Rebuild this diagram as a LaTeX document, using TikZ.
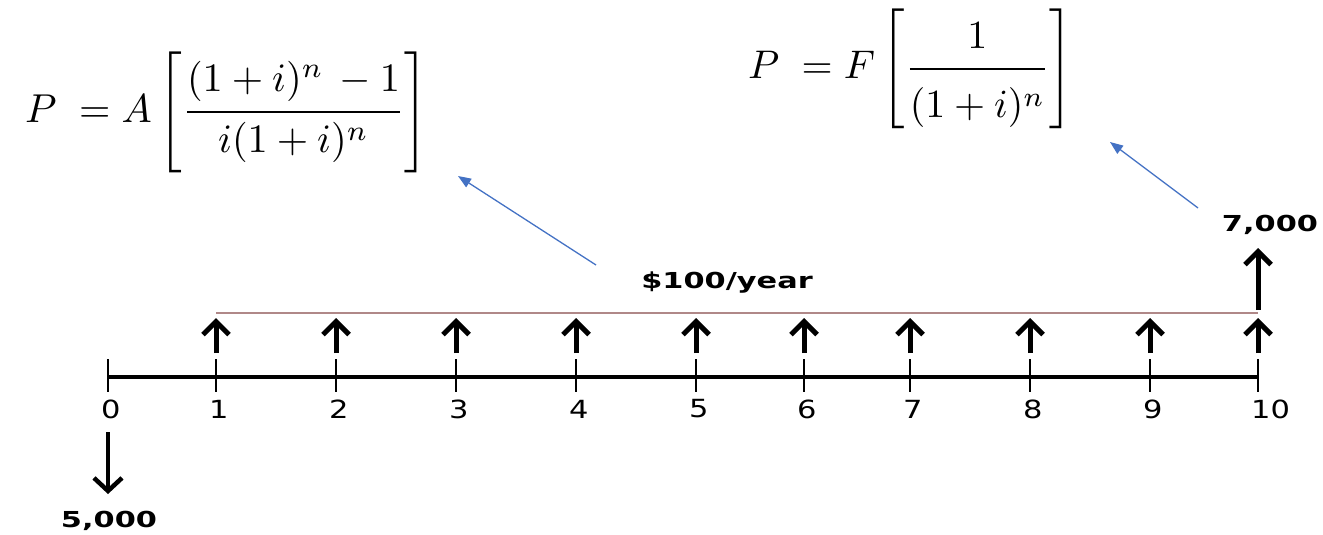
\documentclass[tikz,border=0pt]{standalone}
\usepackage{amsmath}
\usepackage{graphicx}
\usepackage{fontspec}
\newfontfamily\verd{DejaVu Sans}
\usetikzlibrary{arrows.meta}
\definecolor{linkblue}{HTML}{4472C4}
\definecolor{rosel}{HTML}{B08888}
\newcommand{\wideamt}[1]{\scalebox{1.38}[1]{#1}}
\newcommand{\widetick}[1]{\scalebox{1.22}[1]{#1}}
\newcommand{\mystrut}[2]{\rule[-#2]{0pt}{\dimexpr#1+#2\relax}}
\begin{document}
\begin{tikzpicture}[x=1pt,y=-1pt,
  axisline/.style={line width=4.5pt},
  tickline/.style={line width=1.8pt},
  upflow/.style={line width=5pt,-{Straight Barb[length=13pt,width=26pt,line width=5pt]}},
  downflow/.style={line width=4.5pt,-{Straight Barb[length=13pt,width=28pt,line width=4.5pt]}},
  ticklabel/.style={font=\verd\fontsize{25}{27}\selectfont,inner sep=0pt,anchor=west},
  amtlabel/.style={font=\verd\bfseries\fontsize{22}{24}\selectfont,inner sep=0pt},
  formula/.style={inner sep=0pt,anchor=base west},
  pointer/.style={linkblue,line width=1.3pt,-{Triangle[length=13pt,width=10pt]}},
  annuity/.style={rosel,line width=1.2pt}]
\useasboundingbox (0,0) rectangle (1323,535);

% tick coordinates
\foreach \n/\x in {0/108,1/216,2/336,3/456,4/576,5/696,6/804,7/910,8/1030,9/1150,10/1258}{
  \coordinate (t\n) at (\x,377);
  \coordinate (tt\n) at (\x,359);
  \coordinate (tb\n) at (\x,392);
  \draw[tickline] (tt\n) -- (tb\n);
  \node[ticklabel] (l\n) at (\x-7,409) {\widetick{\n}};
}
\draw[axisline] (t0) -- (t10);

% annual arrows
\foreach \n/\x in {1/216,2/336,3/456,4/576,5/696,6/804,7/910,8/1030,9/1150,10/1258}{
  \coordinate (ab\n) at (\x,353);
  \coordinate (at\n) at (\x,318);
  \draw[upflow] (ab\n) -- (at\n);
}
% annuity line
\coordinate (ann1) at (216,313);
\coordinate (ann10) at (1258,313);
\draw[annuity] (ann1) -- (ann10);
\node[amtlabel] (ann) at (727,283) {\wideamt{\$100/year}};

% future value
\coordinate (fb) at (1258,310);
\coordinate (ft) at (1258,248);
\draw[upflow] (fb) -- (ft);
\node[amtlabel] (fv) at (1270,225) {\wideamt{7,000}};

% present value
\coordinate (pb) at (108,432);
\coordinate (pt) at (108,494);
\draw[downflow] (pb) -- (pt);
\node[amtlabel] (pv) at (109,521) {\wideamt{5,000}};

% formulas
\node[formula] (f1) at (25,122) {\resizebox{403pt}{!}{$\delimiterfactor=1000 \delimitershortfall=0pt
  \displaystyle P\;=A\left[\mystrut{16pt}{11pt}\frac{(1+i)^{n}\,-1\mystrut{0pt}{3.6pt}}{i(1+i)^{n}\mystrut{8.6pt}{0pt}}\right]$}};
\node[formula] (f2) at (748,79) {\resizebox{325pt}{!}{$\delimiterfactor=1000 \delimitershortfall=0pt
  \displaystyle P\;=F\left[\mystrut{16pt}{11pt}\frac{1\mystrut{0pt}{3.85pt}}{(1+i)^{n}\mystrut{10.8pt}{0pt}}\right]$}};

\coordinate (p1s) at (596,265);
\coordinate (p1e) at (458,176);
\draw[pointer] (p1s) -- (p1e);
\coordinate (p2s) at (1198,208);
\coordinate (p2e) at (1110,142);
\draw[pointer] (p2s) -- (p2e);
\end{tikzpicture}
\end{document}
